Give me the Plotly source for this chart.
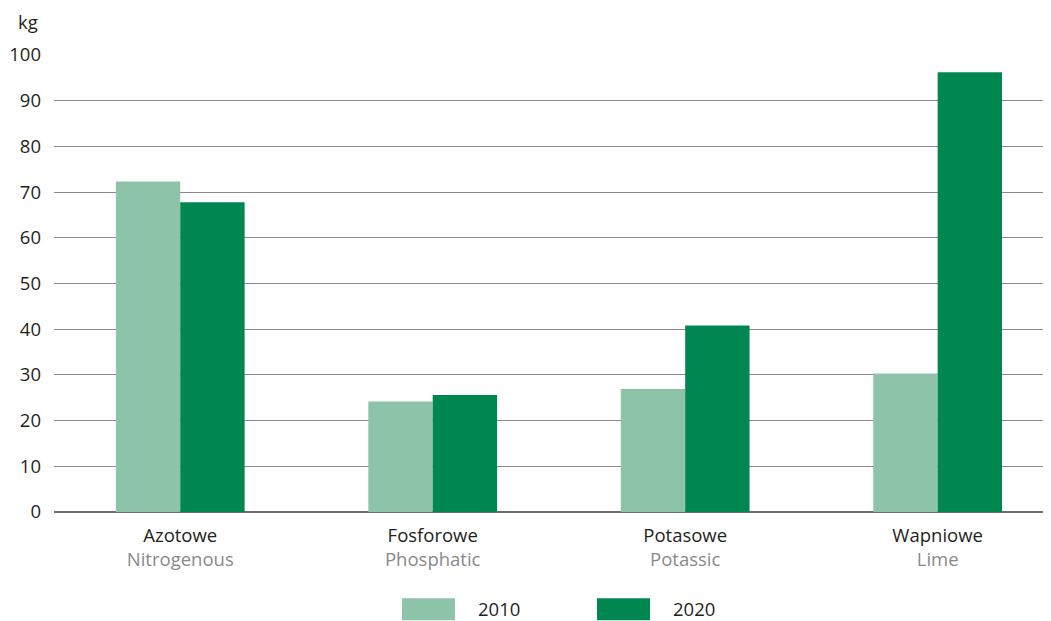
import plotly.graph_objects as go

categories_pl = ["Azotowe", "Fosforowe", "Potasowe", "Wapniowe"]
categories_en = ["Nitrogenous", "Phosphatic", "Potassic", "Lime"]
years = ["2010", "2020"]
values_2010 = [72.3, 24.2, 26.9, 30.3]
values_2020 = [67.8, 25.6, 40.8, 96.2]
y_ticks = [0, 10, 20, 30, 40, 50, 60, 70, 80, 90, 100]

col_2010 = "#8DC3A8"
col_2020 = "#008651"
font_family = "Open Sans, Noto Sans, sans-serif"
FS = 18.5

ticktext = [
    f"<span style='color:#231f20'>{p}</span><br><span style='color:#8a8a8a'>{e}</span>"
    for p, e in zip(categories_pl, categories_en)
]

fig = go.Figure()
fig.add_trace(go.Bar(x=categories_pl, y=values_2010, name=years[0],
                     marker=dict(color=col_2010, line=dict(width=0))))
fig.add_trace(go.Bar(x=categories_pl, y=values_2020, name=years[1],
                     marker=dict(color=col_2020, line=dict(width=0))))

# page body has an 8px margin, so the figure is offset by 8px
fig.update_layout(
    width=1043, height=613,
    margin=dict(l=46, r=1, t=46.5, b=108.5, autoexpand=False),
    paper_bgcolor="white", plot_bgcolor="white",
    barmode="group", bargap=0.49, bargroupgap=0,
    showlegend=False,
    font=dict(family=font_family, size=FS, color="#231f20"),
)
fig.update_xaxes(
    range=[-0.5, 3.445],
    tickmode="array", tickvals=categories_pl, ticktext=ticktext,
    showgrid=False, showline=False, ticks="",
    ticklabelstandoff=10,
    tickfont=dict(size=FS),
)
fig.update_yaxes(
    range=[0, 100], tickvals=y_ticks,
    showgrid=True, gridcolor="#8a8a8a", gridwidth=1,
    zeroline=True, zerolinecolor="#6d6d6d", zerolinewidth=1.5,
    showline=False, ticks="", ticklabelstandoff=12,
    tickfont=dict(size=FS),
)

# unit label
fig.add_annotation(text="kg", xref="paper", yref="paper", x=-0.014, y=1.0,
                   yshift=34, xanchor="right", yanchor="middle",
                   showarrow=False, font=dict(size=FS))

# custom legend (positions in screenshot pixels converted to paper coords)
def px_x(px):
    return (px - 54) / 996

def px_y(py):
    return (512.5 - py) / 458

legend_items = [(years[0], col_2010, 402), (years[1], col_2020, 597)]
for label, col, px in legend_items:
    fig.add_shape(type="rect", xref="paper", yref="paper",
                  x0=px_x(px), x1=px_x(px + 53),
                  y0=px_y(621), y1=px_y(599),
                  fillcolor=col, line=dict(width=0))
    fig.add_annotation(text=label, xref="paper", yref="paper",
                       x=px_x(px + 75), y=px_y(609.5),
                       xanchor="left", yanchor="middle", showarrow=False,
                       borderpad=0, font=dict(size=FS))

fig.write_html("out.html")
